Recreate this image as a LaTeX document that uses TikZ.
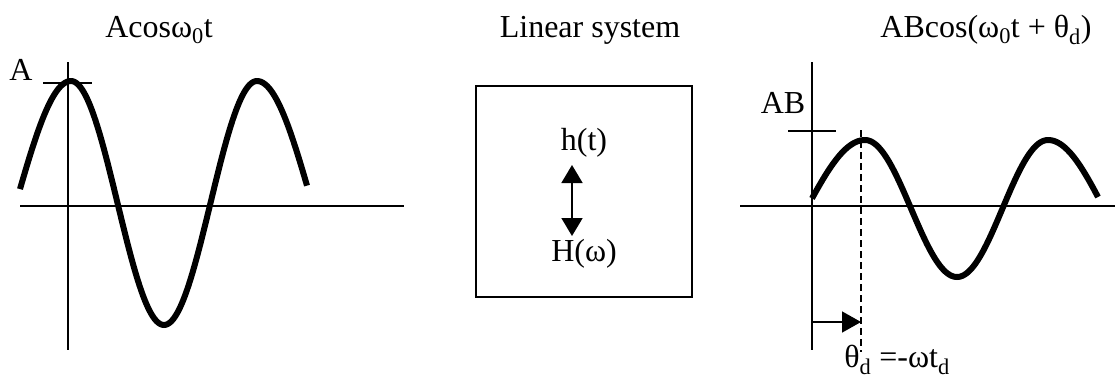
\documentclass[tikz,border=0pt]{standalone}
\usepackage{fontspec}
\setmainfont{Liberation Serif}
\usetikzlibrary{arrows.meta}
\begin{document}
\begin{tikzpicture}[x=1pt,y=-1pt,
  lbl/.style={inner sep=0pt,font=\fontsize{32}{36}\selectfont},
  axis/.style={line width=1.6pt},
  wave/.style={line width=6pt,line join=round},
  tip/.style={-{Triangle[width=21pt,length=19pt]}},
  dtip/.style={{Triangle[width=21pt,length=18pt]}-{Triangle[width=21pt,length=18pt]}}]
\useasboundingbox (0,0) rectangle (1115,380);
% ---- left graph ----
\coordinate (lxa) at (20,206); \coordinate (lxb) at (404,206);
\coordinate (lya) at (68,62);  \coordinate (lyb) at (68,350);
\draw[axis] (lxa) -- (lxb);
\draw[axis] (lya) -- (lyb);
\coordinate (ta) at (43,83); \coordinate (tb) at (92,83);
\draw[axis] (ta) -- (tb);
\draw[wave]
  plot[domain=20:71,samples=30] (\x,{203-122*cos((180/110)*(\x-71))})
  -- plot[domain=71:164,samples=50] (\x,{203-122*cos((180/93)*(\x-71))})
  -- plot[domain=164:257,samples=50] (\x,{203-122*cos((180/93)*(\x-257))})
  -- plot[domain=257:307,samples=30] (\x,{203-122*cos((180/110)*(\x-257))});
\node[lbl] (tin) at (159,30) {Acosω\textsubscript{0}t};
\node[lbl] (la) at (21,70) {A};
% ---- middle box ----
\node[draw,line width=1.6pt,minimum width=216pt,minimum height=211pt,inner sep=0pt] (box) at (584,191.5) {};
\node[lbl] (tsys) at (590,30) {Linear system};
\node[lbl] (ht) at (584,143) {h(t)};
\node[lbl] (Hw) at (584,254) {H(ω)};
\coordinate (a1) at (572,165); \coordinate (a2) at (572,236);
\draw[line width=1.8pt,dtip] (a1) -- (a2);
% ---- right graph ----
\coordinate (rxa) at (740,206); \coordinate (rxb) at (1115,206);
\coordinate (rya) at (812,62);  \coordinate (ryb) at (812,350);
\draw[axis] (rxa) -- (rxb);
\draw[axis] (rya) -- (ryb);
\coordinate (tc) at (788,131); \coordinate (td) at (836,131);
\draw[axis] (tc) -- (td);
\coordinate (da) at (861,130); \coordinate (db) at (861,352);
\draw[line width=1.5pt,dash pattern=on 7pt off 4pt] (da) -- (db);
\draw[wave]
  plot[domain=812:865,samples=30] (\x,{208.5-68.5*cos((180/117)*(\x-865))})
  -- plot[domain=865:957,samples=50] (\x,{208.5-68.5*cos((180/92)*(\x-865))})
  -- plot[domain=957:1048,samples=50] (\x,{208.5-68.5*cos((180/91)*(\x-1048))})
  -- plot[domain=1048:1098,samples=30] (\x,{208.5-68.5*cos((180/112)*(\x-1048))});
\coordinate (p1) at (812,322); \coordinate (p2) at (861,322);
\draw[axis,tip] (p1) -- (p2);
\node[lbl] (tout) at (986,30) {ABcos(ω\textsubscript{0}t + θ\textsubscript{d})};
\node[lbl] (lab) at (783,103) {AB};
\node[lbl] (lth) at (897,360) {θ\textsubscript{d} =-ωt\textsubscript{d}};
\end{tikzpicture}
\end{document}
